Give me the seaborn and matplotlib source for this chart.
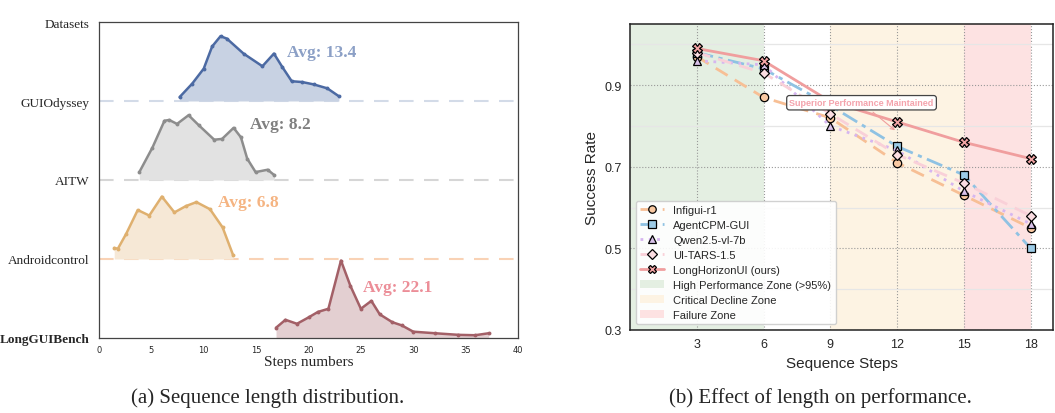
import numpy as np
import pandas as pd
import matplotlib
matplotlib.use("Agg")
import matplotlib.pyplot as plt
from matplotlib.ticker import MultipleLocator, FixedLocator
import seaborn as sns

# ---------------- Data: left panel (ridge curves) ----------------
datasets = ["LongGUIBench", "Androidcontrol", "AITW", "GUIOdyssey"]
avg_labels = ["Avg: 22.1", "Avg: 6.8", "Avg: 8.2", "Avg: 13.4"]

gui_x = [7.7, 8.9, 10.0, 10.8, 11.6, 12.2, 13.8, 15.6, 16.7, 17.5, 18.4, 19.4, 20.5, 21.8, 22.9]
gui_h = [0.05, 0.22, 0.41, 0.69, 0.82, 0.79, 0.60, 0.44, 0.60, 0.43, 0.25, 0.24, 0.21, 0.16, 0.06]

aitw_x = [3.85, 5.1, 6.25, 6.7, 7.45, 8.55, 9.55, 11.0, 11.75, 12.85, 13.55, 14.15, 14.95, 16.1, 16.75]
aitw_h = [0.10, 0.41, 0.75, 0.76, 0.71, 0.82, 0.69, 0.51, 0.52, 0.66, 0.54, 0.27, 0.10, 0.13, 0.06]

ac_x = [1.45, 1.8, 2.6, 3.7, 4.8, 6.0, 7.2, 8.3, 9.3, 10.6, 11.8, 12.8]
ac_h = [0.14, 0.13, 0.32, 0.62, 0.55, 0.79, 0.59, 0.67, 0.72, 0.63, 0.40, 0.05]

lgb_x = [16.9, 17.8, 18.9, 20.0, 20.9, 21.9, 23.1, 24.0, 25.0, 26.0, 26.8, 28.0, 28.9, 30.0, 32.1, 34.3, 35.9, 37.2]
lgb_h = [0.13, 0.23, 0.18, 0.26, 0.33, 0.37, 0.98, 0.66, 0.37, 0.47, 0.30, 0.20, 0.16, 0.08, 0.06, 0.04, 0.035, 0.06]

# ---------------- Data: right panel ----------------
steps = [3, 6, 9, 12, 15, 18]
models = ["Infigui-r1", "AgentCPM-GUI", "Qwen2.5-vl-7b", "UI-TARS-1.5", "LongHorizonUI (ours)"]
infigui = [0.97, 0.87, 0.82, 0.71, 0.63, 0.55]
agentcpm = [0.98, 0.94, 0.85, 0.75, 0.68, 0.50]
qwen = [0.96, 0.95, 0.80, 0.74, 0.64, 0.56]
uitars = [0.98, 0.93, 0.83, 0.73, 0.66, 0.58]
longhorizon = [0.99, 0.96, 0.86, 0.81, 0.76, 0.72]
zone_labels = ["High Performance Zone (>95%)", "Critical Decline Zone", "Failure Zone"]

# ---------------- Figure ----------------
sns.set_theme(style="white")
plt.rcParams["font.family"] = ["Liberation Sans", "DejaVu Sans"]

fig = plt.figure(figsize=(10.55, 4.14), dpi=100)
axL = fig.add_axes([99 / 1055, 1 - 339 / 414, 419 / 1055, 316 / 414])
axR = fig.add_axes([630 / 1055, 1 - 331 / 414, 423 / 1055, 306 / 414])

# ---- Left panel ----
ridges = [
    (lgb_x, lgb_h, "#a36067", "#e3cfd1", "#ec8e98", "#f3c9cc", (25.2, 0.64)),
    (ac_x, ac_h, "#dfb06f", "#f6e8d6", "#f5b482", "#f9d2b5", (11.4, 1.72)),
    (aitw_x, aitw_h, "#8d8d8d", "#e2e2e2", "#808080", "#d6d6d6", (14.4, 2.71)),
    (gui_x, gui_h, "#4c6aa3", "#c8d2e3", "#8ca0c6", "#d3dbe8", (17.9, 3.62)),
]
for i, (xs, hs, lc, fc, tc, dc, tpos) in enumerate(ridges):
    base = float(i)
    if i > 0:
        axL.axhline(base, color=dc, lw=1.5, ls=(0, (7, 5)), zorder=1)
    ys = np.asarray(hs) + base
    axL.fill_between(xs, base, ys, color=fc, alpha=1.0, lw=0, zorder=2)
    sns.lineplot(x=xs, y=ys, ax=axL, color=lc, lw=1.8, marker="o", markersize=2.8,
                 markeredgewidth=0, zorder=3)
    axL.text(tpos[0], tpos[1], avg_labels[i], color=tc, fontsize=12.5, fontweight="bold",
             family="Liberation Serif", va="center", ha="left", zorder=4)

axL.set_xlim(0, 40)
axL.set_ylim(0, 4)
axL.xaxis.set_major_locator(MultipleLocator(5))
axL.yaxis.set_major_locator(FixedLocator([0, 1, 2, 3, 4]))
axL.yaxis.set_minor_locator(FixedLocator([0.5, 1.5, 2.5, 3.5]))
axL.set_yticklabels(datasets + ["Datasets"], family="Liberation Serif", fontsize=9.5)
axL.get_yticklabels()[0].set_fontweight("bold")
for lab in axL.get_xticklabels():
    lab.set_fontsize(6)
    lab.set_family("DejaVu Sans")
axL.tick_params(axis="both", which="both", direction="out", length=3, width=0.8,
                color="#444444", pad=2)
axL.tick_params(axis="y", which="major", pad=4)
axL.set_xlabel("Steps numbers", family="Liberation Serif", fontsize=11, labelpad=1)
for sp in axL.spines.values():
    sp.set_color("#444444")
    sp.set_linewidth(0.9)
    sp.set_visible(True)

# ---- Right panel ----
axR.axvspan(0, 6, color="#e4efe2", lw=0, zorder=0, label=zone_labels[0])
axR.axvspan(9, 15, color="#fdf3e3", lw=0, zorder=0, label=zone_labels[1])
axR.axvspan(15, 18, color="#fde2e2", lw=0, zorder=0, label=zone_labels[2])

series = [
    (infigui, "#f7bf95", "#f9c9a2", "o", (0, (5, 3)), 6),
    (agentcpm, "#8fc2e3", "#9ccbe6", "s", (0, (6, 2, 1.5, 2)), 6),
    (qwen, "#d6b6f0", "#d9c2ea", "^", (0, (1, 2)), 6),
    (uitars, "#f9d0d8", "#fbdde2", "D", (0, (5, 3)), 5.5),
    (longhorizon, "#f09e9e", "#f3a5a5", "X", "-", 6.5),
]
for name, (vals, lc, mfc, mk, ls, ms) in zip(models, series):
    sns.lineplot(x=steps, y=vals, ax=axR, color=lc, lw=2, linestyle=ls, marker=mk,
                 markersize=ms, markerfacecolor=mfc, markeredgecolor="black",
                 markeredgewidth=0.9, label=name, zorder=4)

axR.annotate("Superior Performance Maintained", xy=(12, 0.785), xytext=(10.4, 0.857),
             ha="center", va="center", fontsize=6.5, fontweight="bold", color="#f4a3ac",
             bbox=dict(boxstyle="round,pad=0.3", fc="white", ec="#444444", lw=0.9),
             arrowprops=dict(arrowstyle="->", color="#f09e9e", lw=0.8), zorder=6)

axR.set_xlim(0, 19)
axR.set_ylim(0.3, 1.05)
axR.xaxis.set_major_locator(FixedLocator(steps))
axR.yaxis.set_major_locator(FixedLocator([0.3, 0.5, 0.7, 0.9]))
axR.yaxis.set_minor_locator(FixedLocator([0.4, 0.6, 0.8, 1.0]))
axR.grid(which="major", ls=":", color="#999999", lw=0.8, zorder=1)
axR.grid(which="minor", axis="y", ls="-", color="#e6e6e6", lw=0.9, zorder=1)
axR.set_axisbelow(True)
axR.tick_params(axis="both", which="major", labelsize=9, length=3, width=0.8, direction="out",
                color="#333333", pad=3)
axR.tick_params(axis="y", which="minor", length=2, width=0.6, direction="out", color="#333333")
axR.set_xlabel("Sequence Steps", fontsize=11, labelpad=4)
axR.set_ylabel("Success Rate", fontsize=11, labelpad=4)
for sp in axR.spines.values():
    sp.set_color("#222222")
    sp.set_linewidth(1.1)
    sp.set_visible(True)

handles, labels = axR.get_legend_handles_labels()
order = [labels.index(l) for l in models + zone_labels]
leg = axR.legend([handles[k] for k in order], [labels[k] for k in order], loc="lower left",
                 fontsize=8, frameon=True, fancybox=True, framealpha=0.9, edgecolor="#cccccc",
                 handlelength=2.2, borderaxespad=0.5, labelspacing=0.45, markerscale=0.9)
leg.set_zorder(7)

# ---- Captions ----
fig.text(268 / 1055, 1 - 398 / 414, "(a) Sequence length distribution.",
         family="Liberation Serif", fontsize=15, ha="center", va="center")
fig.text(820 / 1055, 1 - 398 / 414, "(b) Effect of length on performance.",
         family="Liberation Serif", fontsize=15, ha="center", va="center")

fig.savefig("out.png", dpi=100)
